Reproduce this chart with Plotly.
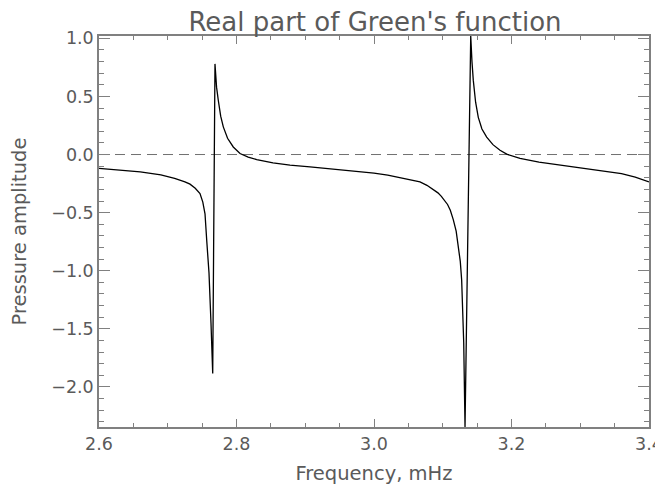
import plotly.graph_objects as go

# Frequency (mHz) and real part of Green's function
freq = [2.600, 2.630, 2.660, 2.690, 2.710, 2.725, 2.7324, 2.7400, 2.7469, 2.7510,
        2.7542, 2.7567, 2.7600, 2.7629, 2.7654, 2.7687, 2.7710, 2.7735, 2.7770,
        2.7808, 2.7870, 2.7953, 2.8051, 2.8170, 2.8294, 2.8531, 2.8778, 2.9069,
        2.9500, 3.0000, 3.0200, 3.0400, 3.0550, 3.0669, 3.0770, 3.0863, 3.0930,
        3.0980, 3.1030, 3.1070, 3.1110, 3.1153, 3.1195, 3.1226, 3.1255, 3.1275,
        3.1290, 3.1305, 3.1324, 3.1407, 3.1425, 3.1444, 3.1478, 3.1517, 3.1570,
        3.1639, 3.1730, 3.1833, 3.1930, 3.2124, 3.2400, 3.2700, 3.3000, 3.3300,
        3.3600, 3.3800, 3.4000]
real_part = [-0.120, -0.135, -0.150, -0.175, -0.205, -0.235, -0.255, -0.290, -0.336, -0.410,
             -0.510, -0.740, -1.020, -1.450, -1.885, 0.780, 0.580, 0.467, 0.330,
             0.238, 0.140, 0.065, 0.009, -0.022, -0.043, -0.072, -0.092, -0.107,
             -0.130, -0.160, -0.178, -0.200, -0.218, -0.236, -0.265, -0.300, -0.330,
             -0.360, -0.395, -0.430, -0.480, -0.560, -0.660, -0.780, -0.920, -1.080,
             -1.280, -1.620, -2.345, 1.020, 0.800, 0.640, 0.450, 0.320, 0.220,
             0.150, 0.085, 0.037, 0.003, -0.034, -0.065, -0.090, -0.110, -0.135,
             -0.165, -0.195, -0.235]

x_range = [2.6, 3.4 + 1e-9]
y_range = [-2.345, 1.020]
zero_x = [2.6, 3.4]
zero_y = [0.0, 0.0]

title_text = "Real part of Green's function"
x_title = "Frequency, mHz"
y_title = "Pressure amplitude"

FONT = "DejaVu Sans"
TXT = "#5a5a5a"
AX = "#808080"

# the page adds an 8px body margin, so the figure is 8px smaller than the window
W, H = 655, 481

fig = go.Figure()
fig.add_trace(go.Scatter(x=zero_x, y=zero_y, mode="lines",
                         line=dict(color="#707070", width=1, dash="10px,6px"),
                         hoverinfo="skip", showlegend=False))
fig.add_trace(go.Scatter(x=freq, y=real_part, mode="lines",
                         line=dict(color="black", width=1.3),
                         showlegend=False))

axis_common = dict(
    showgrid=False, zeroline=False, showline=True, linecolor=AX, linewidth=1.5,
    mirror="ticks", ticks="inside", tickcolor=AX, tickwidth=1,
    tickfont=dict(family=FONT, size=17.5, color=TXT), tickformat=".1f",
    ticklabeloverflow="allow", automargin=False,
)

fig.update_layout(
    width=W, height=H,
    margin=dict(l=91, r=14, t=28, b=62, autoexpand=False),
    paper_bgcolor="white", plot_bgcolor="white",
    title=dict(text=title_text, x=367 / W, xanchor="center", xref="container",
               y=1 - 13.5 / H, yanchor="middle", yref="container",
               automargin=False,
               font=dict(family=FONT, size=26, color=TXT)),
    xaxis=dict(range=x_range, tick0=2.6, dtick=0.2, ticklen=8,
               minor=dict(dtick=0.05, ticks="inside", ticklen=4, tickcolor=AX),
               title=dict(text=x_title, standoff=14,
                          font=dict(family=FONT, size=19.5, color=TXT)),
               **axis_common),
    yaxis=dict(range=y_range, tick0=0, dtick=0.5, ticklen=11,
               minor=dict(dtick=0.1, ticks="inside", ticklen=5, tickcolor=AX),
               title=dict(text=y_title, standoff=27,
                          font=dict(family=FONT, size=19.5, color=TXT)),
               **axis_common),
)

fig.write_html("out.html")
